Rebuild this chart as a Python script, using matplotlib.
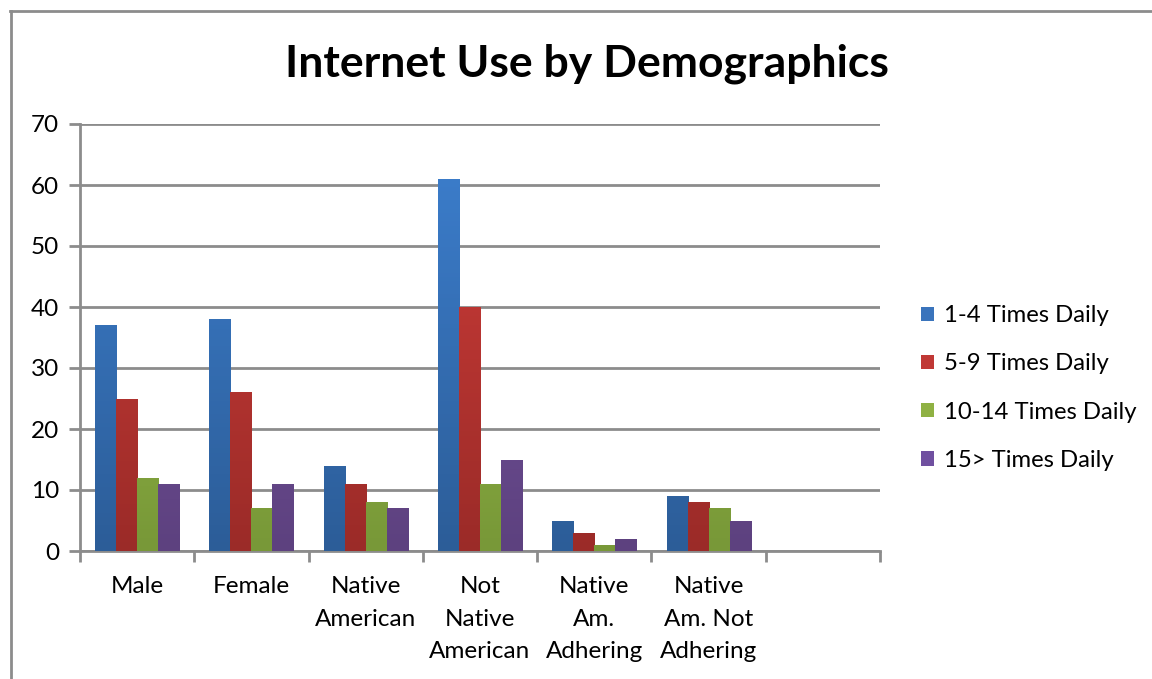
import numpy as np
import matplotlib
matplotlib.use("Agg")
import matplotlib.pyplot as plt
from matplotlib.lines import Line2D
from matplotlib.patches import Patch
from matplotlib.colors import LinearSegmentedColormap

categories = ["Male", "Female", "Native\nAmerican", "Not\nNative\nAmerican",
              "Native\nAm.\nAdhering", "Native\nAm. Not\nAdhering", ""]
series_names = ["1-4 Times Daily", "5-9 Times Daily", "10-14 Times Daily", "15> Times Daily"]
times_1_4 = [37, 38, 14, 61, 5, 9]
times_5_9 = [25, 26, 11, 40, 3, 8]
times_10_14 = [12, 7, 8, 11, 1, 7]
times_15_plus = [11, 11, 7, 15, 2, 5]
series = [times_1_4, times_5_9, times_10_14, times_15_plus]

# (top, bottom) gradient colours, like the Office bar fill
grad = [("#3d80d0", "#2c5d98"), ("#d23e3a", "#9b2b28"),
        ("#a2c84d", "#789838"), ("#7f5cab", "#5d417f")]
mid = ["#3a74bc", "#c03835", "#8fb143", "#7050a0"]

plt.rcParams["font.family"] = ["Lato", "DejaVu Sans"]

fig = plt.figure(figsize=(11.52, 6.79), dpi=100)
ax = fig.add_axes([80 / 1152, 1 - 551 / 679, 800 / 1152, 427 / 679])

x = np.arange(len(categories))
w = 0.184
for i, vals in enumerate(series):
    xs = x[:len(vals)] + (i - 1.5) * w
    bars = ax.bar(xs, vals, width=w, color=mid[i], zorder=3, linewidth=0)
    cmap = LinearSegmentedColormap.from_list("g%d" % i, [grad[i][1], grad[i][0]])
    for b in bars:
        x0 = b.get_x()
        im = ax.imshow(np.linspace(0, 1, 100).reshape(-1, 1), cmap=cmap,
                       extent=[x0, x0 + b.get_width(), 0, 70], origin="lower",
                       aspect="auto", zorder=4)
        im.set_clip_path(b)

ax.set_xlim(-0.5, len(categories) - 0.5)
ax.set_ylim(0, 70)
ax.set_yticks(range(0, 71, 10))
ax.yaxis.grid(True, color="#8c8c8c", linewidth=2, zorder=1)
ax.set_axisbelow(True)

ax.set_xticks(np.arange(-0.5, len(categories), 1.0))
ax.set_xticklabels([])
ax.set_xticks(x, minor=True)
ax.set_xticklabels(categories, minor=True, fontsize=17.5, linespacing=1.68, va="top")
ax.tick_params(axis="x", which="minor", length=0, pad=18)
ax.tick_params(axis="x", which="major", length=8, width=2, color="#8c8c8c")
ax.tick_params(axis="y", length=8, width=2, color="#8c8c8c", labelsize=17.5, pad=7)

for s in ["top", "right"]:
    ax.spines[s].set_visible(False)
for s in ["left", "bottom"]:
    ax.spines[s].set_color("#8c8c8c")
    ax.spines[s].set_linewidth(2)

fig.text(587 / 1152, 1 - 64 / 679, "Internet Use by Demographics",
         fontsize=32, fontweight="bold", ha="center", va="center")

handles = [Patch(facecolor=mid[i]) for i in range(4)]
fig.legend(handles, series_names, loc="center left",
           bbox_to_anchor=(899 / 1152, 1 - 388 / 679), frameon=False,
           fontsize=17.2, handlelength=0.55, handleheight=0.55,
           handletextpad=0.45, labelspacing=1.14)

# outer chart frame
fig.add_artist(Line2D([10 / 1152, 1], [1 - 11 / 679] * 2, color="#8c8c8c", lw=2))
fig.add_artist(Line2D([11 / 1152] * 2, [0, 1 - 11 / 679], color="#8c8c8c", lw=2))

fig.savefig("out.png", dpi=100)
